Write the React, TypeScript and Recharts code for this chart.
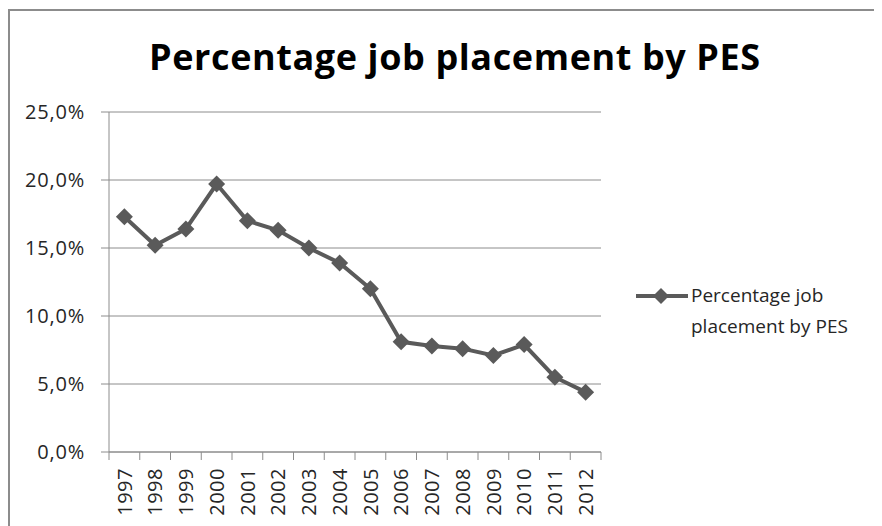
import { LineChart, Line, XAxis, YAxis, CartesianGrid, Legend } from 'recharts'

const years = ['1997', '1998', '1999', '2000', '2001', '2002', '2003', '2004', '2005', '2006', '2007', '2008', '2009', '2010', '2011', '2012']
const placementPct = [17.3, 15.2, 16.4, 19.7, 17.0, 16.3, 15.0, 13.9, 12.0, 8.1, 7.8, 7.6, 7.1, 7.9, 5.5, 4.4]
const yTicks = [0, 5, 10, 15, 20, 25]
const seriesName = 'Percentage job placement by PES'

const data = years.map((year, i) => ({ year, value: placementPct[i] }))

const FONT = '"Open Sans", Lato, sans-serif'
const LINE = '#5a5a5a'
const AXIS = '#8c8c8c'
const TEXT = '#262626'

const CHART_W = 870
const CHART_H = 540
const M = { top: 101, right: 279, left: 39, bottom: 9 }
const BAND = (CHART_W - M.left - 60 - M.right) / years.length

const Diamond = (props: any) => {
  const { cx, cy } = props
  if (cx == null || cy == null) return null
  const r = 8.5
  return <path d={`M${cx},${cy - r}L${cx + r},${cy}L${cx},${cy + r}L${cx - r},${cy}Z`} fill={LINE} />
}

const YearTick = (props: any) => {
  const { x, y, payload, index } = props
  return (
    <g>
      <line x1={x - BAND / 2} y1={y} x2={x - BAND / 2} y2={y + 8} stroke={AXIS} />
      {index === years.length - 1 && <line x1={x + BAND / 2} y1={y} x2={x + BAND / 2} y2={y + 8} stroke={AXIS} />}
      <text
        x={0}
        y={0}
        transform={`translate(${x},${y + 16}) rotate(-90)`}
        textAnchor="end"
        dy="0.36em"
        fontSize={20}
        fill={TEXT}
        fontFamily={FONT}
        style={{ letterSpacing: 0.5 }}
      >
        {payload.value}
      </text>
    </g>
  )
}

const LegendBox = () => (
  <div style={{ display: 'flex', alignItems: 'flex-start', fontFamily: FONT, fontSize: 19, color: TEXT }}>
    <svg width={52} height={22} style={{ flex: 'none' }}>
      <line x1={0} y1={11} x2={52} y2={11} stroke={LINE} strokeWidth={4} />
      <path d="M25,3L33,11L25,19L17,11Z" fill={LINE} />
    </svg>
    <div style={{ lineHeight: '31px', marginTop: -5, marginLeft: 3 }}>
      Percentage job
      <br />
      placement by PES
    </div>
  </div>
)

export default function App() {
  return (
    <div style={{ borderLeft: '2px solid #8c8c8c', borderTop: '2px solid #8c8c8c', width: CHART_W, height: CHART_H, position: 'relative', background: '#fff', marginTop: 1 }}>
      <div style={{ position: 'absolute', left: 139, top: 21, width: 600, textAlign: 'center', fontFamily: FONT, fontWeight: 700, fontSize: 36, letterSpacing: 0.6, color: '#000', whiteSpace: 'nowrap' }}>
        {seriesName}
      </div>
      <LineChart width={CHART_W} height={CHART_H} data={data} margin={M}>
        <CartesianGrid vertical={false} stroke={AXIS} strokeWidth={1} />
        <XAxis
          dataKey="year"
          stroke={AXIS}
          tickLine={false}
          tickSize={0}
          tickMargin={0}
          height={90}
          interval={0}
          padding={{ left: BAND / 2, right: BAND / 2 }}
          tick={<YearTick />}
        />
        <YAxis
          domain={[0, 25]}
          ticks={yTicks}
          width={60}
          stroke={AXIS}
          tickSize={8}
          tickMargin={16}
          tick={{ fill: TEXT, fontSize: 20, fontFamily: FONT, style: { letterSpacing: 0.8 } }}
          tickFormatter={(v: number) => `${v.toFixed(1).replace('.', ',')}%`}
        />
        <Legend
          layout="horizontal"
          verticalAlign="middle"
          align="center"
          wrapperStyle={{ position: 'absolute', left: 626, top: 274, width: 240 }}
          content={<LegendBox />}
        />
        <Line
          type="linear"
          dataKey="value"
          name={seriesName}
          stroke={LINE}
          strokeWidth={4}
          dot={<Diamond />}
          activeDot={false}
          isAnimationActive={false}
        />
      </LineChart>
    </div>
  )
}
